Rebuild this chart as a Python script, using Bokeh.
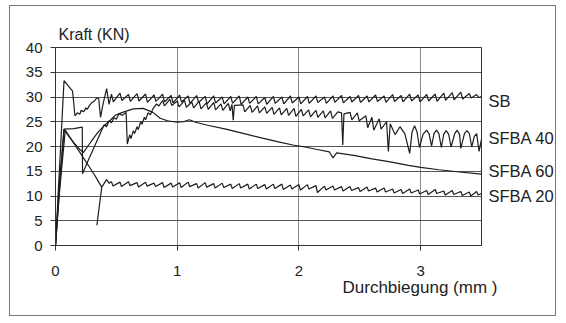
from bokeh.plotting import figure
from bokeh.models import Range1d, FixedTicker, LinearAxis, Title
from bokeh.embed import file_html
from bokeh.resources import INLINE

# ---------------- data ----------------
x_ticks = [0, 1, 2, 3]
y_ticks = [0, 5, 10, 15, 20, 25, 30, 35, 40]

series_names = ["SB", "SFBA 40", "SFBA 60", "SFBA 20"]
label_y = [29.2, 21.7, 14.95, 10.1]

sb_x = [0, 0.07, 0.14, 0.16, 0.18, 0.20, 0.21, 0.23, 0.25, 0.26, 0.28, 0.30, 0.32, 0.34,
        0.355, 0.37, 0.39, 0.42, 0.44,
        0.46, 0.475, 0.53, 0.545, 0.60, 0.615, 0.67, 0.685, 0.74, 0.755, 0.81, 0.825,
        0.88, 0.895, 0.95, 0.965, 1.02, 1.035, 1.09, 1.105, 1.16, 1.175, 1.23, 1.245,
        1.30, 1.315, 1.37, 1.385, 1.44, 1.455, 1.51, 1.525, 1.58, 1.595, 1.65, 1.665,
        1.72, 1.735, 1.79, 1.805, 1.86, 1.875, 1.93, 1.945, 2.00, 2.015, 2.07, 2.085,
        2.14, 2.155, 2.21, 2.225, 2.28, 2.295, 2.35, 2.365, 2.42, 2.435, 2.49, 2.505,
        2.56, 2.575, 2.63, 2.645, 2.70, 2.715, 2.77, 2.785, 2.84, 2.855, 2.91, 2.925,
        2.98, 2.995, 3.05, 3.065, 3.12, 3.135, 3.19, 3.205, 3.26, 3.275, 3.33, 3.345,
        3.40, 3.415, 3.46, 3.475, 3.5]
sb_y = [0, 33.3, 31.2, 26.2, 26.8, 26.5, 27.3, 27.0, 27.8, 27.5, 28.3, 28.9, 29.2, 29.8,
        29.7, 25.9, 28.5, 31.7, 28.5,
        30.6, 29.0, 30.8, 29.3, 30.5, 29.1, 30.7, 29.2, 30.6, 28.9, 30.4, 29.1,
        30.6, 29.0, 30.3, 28.8, 30.4, 29.0, 30.2, 28.7, 30.3, 28.9, 30.1, 28.6,
        30.2, 28.8, 30.0, 28.6, 30.1, 28.7, 30.2, 28.5, 30.0, 28.7, 30.1, 28.6,
        29.9, 28.5, 30.1, 28.7, 30.0, 28.6, 30.2, 28.8, 30.0, 28.6, 30.1, 28.7,
        30.2, 28.9, 30.0, 28.7, 30.2, 28.9, 30.3, 28.8, 30.1, 29.0, 30.3, 28.9,
        30.2, 29.0, 30.4, 29.1, 30.2, 28.9, 30.5, 29.1, 30.3, 29.0, 30.6, 29.2,
        30.4, 29.0, 30.5, 29.2, 30.6, 29.1, 30.8, 29.3, 30.9, 29.4, 31.0, 29.6,
        30.7, 29.8, 30.5, 29.9, 30.1]

sfba40_x = [0, 0.04, 0.07, 0.15, 0.22, 0.222, 0.26, 0.30, 0.34, 0.37, 0.40, 0.42, 0.44,
            0.46, 0.48, 0.50, 0.52, 0.55, 0.58, 0.59, 0.61, 0.62, 0.64, 0.65, 0.67, 0.68,
            0.70, 0.71, 0.73, 0.74, 0.76, 0.78, 0.80, 0.83, 0.85,
            0.88, 0.895, 0.94, 0.955, 1.00, 1.015, 1.06, 1.075, 1.12, 1.135, 1.18, 1.195,
            1.24, 1.255, 1.30, 1.315, 1.36, 1.375, 1.42, 1.435, 1.45, 1.46, 1.47,
            1.54, 1.555, 1.60, 1.615, 1.66, 1.675, 1.72, 1.735, 1.78, 1.795, 1.84, 1.855,
            1.90, 1.915, 1.96, 1.975, 2.02, 2.035, 2.08, 2.095, 2.14, 2.155, 2.20, 2.215,
            2.26, 2.275, 2.32, 2.35, 2.36, 2.37, 2.42, 2.435, 2.48, 2.495, 2.55, 2.565,
            2.60, 2.615, 2.66, 2.675, 2.72, 2.735, 2.75, 2.79, 2.83, 2.87, 2.91, 2.93,
            2.95, 2.97, 2.99, 3.02, 3.05, 3.07, 3.09, 3.11, 3.13, 3.15, 3.17, 3.19, 3.21,
            3.23, 3.25, 3.28, 3.30, 3.32, 3.33, 3.36, 3.38, 3.40, 3.42, 3.44, 3.46, 3.48,
            3.5]
sfba40_y = [0, 14.0, 23.5, 23.6, 23.9, 14.5, 16.7, 18.9, 21.1, 22.8, 24.4, 24.0, 25.2,
            24.8, 25.8, 25.5, 26.6, 26.3, 26.9, 20.5, 22.4, 21.6, 23.2, 22.6, 24.0, 23.4,
            25.0, 24.5, 25.9, 25.4, 26.8, 26.4, 27.6, 28.6, 28.2,
            29.3, 28.2, 29.5, 28.3, 29.2, 28.0, 29.3, 27.9, 29.0, 27.8, 29.1, 27.6,
            28.8, 27.5, 28.9, 27.4, 28.6, 27.3, 28.7, 27.2, 28.5, 25.3, 28.3,
            28.4, 27.0, 28.3, 26.9, 28.2, 26.8, 28.0, 26.7, 27.9, 26.5, 27.8, 26.4,
            27.7, 26.3, 27.7, 26.1, 27.5, 26.2, 27.4, 26.0, 27.3, 25.9, 27.2, 25.8,
            27.2, 25.7, 27.0, 26.8, 20.3, 26.6, 26.9, 25.4, 26.8, 25.2, 26.2, 23.8,
            25.9, 23.3, 25.6, 23.5, 25.0, 19.0, 24.6, 22.4, 24.0, 22.6, 18.6, 23.0,
            24.2, 23.0, 19.8, 22.5, 23.3, 22.5, 20.1, 22.6, 23.3, 22.6, 19.8, 22.5, 23.2,
            22.5, 19.9, 22.6, 23.3, 22.4, 19.6, 22.6, 23.2, 22.6, 19.9, 22.0, 22.6, 19.0,
            21.5]

sfba60_x = [0, 0.03, 0.07, 0.10, 0.15, 0.20, 0.23, 0.27, 0.31, 0.35, 0.40, 0.45, 0.49,
            0.55, 0.60, 0.64, 0.72, 0.80, 0.86, 0.92, 1.00, 1.05, 1.10, 1.15, 1.25, 1.40,
            1.55, 1.70, 1.84, 1.95, 2.05, 2.15, 2.25, 2.28, 2.31, 2.45, 2.60, 2.75, 2.90,
            3.00, 3.15, 3.30, 3.5]
sfba60_y = [0, 12.0, 23.5, 22.4, 20.8, 19.4, 18.8, 20.2, 21.6, 22.9, 24.2, 25.3, 26.3,
            26.9, 27.3, 27.6, 27.7, 26.9, 25.7, 25.2, 24.9, 25.0, 25.4, 24.9, 24.3, 23.5,
            22.6, 21.7, 20.9, 20.3, 19.9, 19.4, 18.9, 17.7, 18.7, 18.2, 17.5, 16.9, 16.2,
            15.8, 15.3, 14.9, 14.4]

sfba20_x = [0, 0.03, 0.08, 0.12, 0.16, 0.20, 0.24, 0.28, 0.32, 0.36, 0.38, 0.34, 0.38,
            0.42, 0.44,
            0.46, 0.472, 0.53, 0.542, 0.60, 0.612, 0.67, 0.682, 0.74, 0.752, 0.81, 0.822,
            0.88, 0.892, 0.95, 0.962, 1.02, 1.032, 1.09, 1.102, 1.16, 1.172, 1.23, 1.242,
            1.30, 1.312, 1.37, 1.382, 1.44, 1.452, 1.51, 1.522, 1.58, 1.592, 1.65, 1.662,
            1.72, 1.732, 1.79, 1.802, 1.86, 1.872, 1.93, 1.942, 2.00, 2.012, 2.07, 2.082,
            2.14, 2.152, 2.21, 2.222, 2.28, 2.292, 2.35, 2.362, 2.42, 2.432, 2.49, 2.502,
            2.56, 2.572, 2.63, 2.642, 2.70, 2.712, 2.77, 2.782, 2.84, 2.852, 2.91, 2.922,
            2.98, 2.992, 3.05, 3.062, 3.12, 3.132, 3.19, 3.202, 3.26, 3.272, 3.33, 3.342,
            3.40, 3.412, 3.46, 3.472, 3.5]
sfba20_y = [0, 10.0, 23.3, 21.8, 20.3, 18.8, 17.3, 15.8, 14.3, 12.6, 11.8, 4.1, 11.8,
            13.3, 12.6,
            12.9, 12.0, 12.8, 11.9, 12.9, 12.1, 12.7, 11.8, 12.8, 12.0, 12.6, 11.9,
            12.7, 11.7, 12.6, 11.8, 12.7, 11.7, 12.8, 11.9, 12.5, 11.6, 12.7, 11.8,
            12.5, 11.6, 12.6, 11.7, 12.4, 11.5, 12.5, 11.6, 12.4, 11.4, 12.4, 11.5,
            12.3, 11.4, 12.4, 11.5, 12.4, 11.3, 12.2, 11.4, 12.3, 11.2, 12.3, 11.4,
            12.1, 10.7, 12.0, 11.2, 12.0, 11.2, 11.9, 11.0, 11.9, 11.1, 11.7, 10.9,
            11.8, 11.0, 11.6, 10.8, 11.6, 10.8, 11.4, 10.6, 11.3, 10.5, 11.4, 10.6,
            11.2, 10.4, 11.1, 10.3, 11.3, 10.5, 11.0, 10.2, 11.1, 10.3, 10.9, 10.1,
            10.8, 10.0, 10.9, 10.2, 10.5]

# ---------------- figure ----------------
FONT = "Liberation Sans"
INK = "#222222"

p = figure(width=547, height=311, x_range=Range1d(0, 3.5), y_range=Range1d(0, 40),
           output_backend="svg", toolbar_location=None,
           min_border_left=45, min_border_right=76, min_border_top=41, min_border_bottom=72)
p.background_fill_color = "white"
p.border_fill_color = "white"
p.outline_line_color = "#333333"
p.outline_line_width = 1
p.styles = {"border": "1px solid #777777", "margin": "5px 0px 0px 9px"}

for ax in (p.xaxis[0], p.yaxis[0]):
    ax.axis_line_color = "#333333"
    ax.major_tick_line_color = "#333333"
    ax.major_tick_out = 5
    ax.major_tick_in = 0
    ax.minor_tick_line_color = None
    ax.major_label_text_font = FONT
    ax.major_label_text_font_size = "15px"
    ax.major_label_text_color = INK

p.xaxis.ticker = FixedTicker(ticks=x_ticks)
p.yaxis.ticker = FixedTicker(ticks=y_ticks)
p.xaxis.major_label_standoff = 15
p.yaxis.major_label_standoff = 8

p.xgrid.ticker = FixedTicker(ticks=x_ticks)
p.ygrid.ticker = FixedTicker(ticks=y_ticks)
p.xgrid.grid_line_color = "#8a8a8a"
p.ygrid.grid_line_color = "#555555"

xs = [sb_x, sfba40_x, sfba60_x, sfba20_x]
ys = [sb_y, sfba40_y, sfba60_y, sfba20_y]
for x, y in zip(xs, ys):
    p.line(x, y, line_color="#1c1c1c", line_width=1.2)

# series names as a tick-label-only axis on the right
name_axis = LinearAxis(ticker=FixedTicker(ticks=label_y),
                       major_label_overrides={v: n for v, n in zip(label_y, series_names)})
name_axis.axis_line_color = None
name_axis.major_tick_line_color = None
name_axis.minor_tick_line_color = None
name_axis.major_tick_out = 0
name_axis.major_tick_in = 0
name_axis.major_label_standoff = 7
name_axis.major_label_text_font = FONT
name_axis.major_label_text_font_size = "16.5px"
name_axis.major_label_text_color = INK
p.add_layout(name_axis, "right")

t_y = Title(text="Kraft (KN)", align="left", offset=3, standoff=10,
            text_font=FONT, text_font_size="16px", text_color=INK, text_font_style="normal")
p.add_layout(t_y, "above")

t_x = Title(text="Durchbiegung (mm )", align="left", offset=287, standoff=-5,
            text_font=FONT, text_font_size="17px", text_color=INK, text_font_style="normal")
p.add_layout(t_x, "below")

open("out.html", "w").write(file_html(p, INLINE))
